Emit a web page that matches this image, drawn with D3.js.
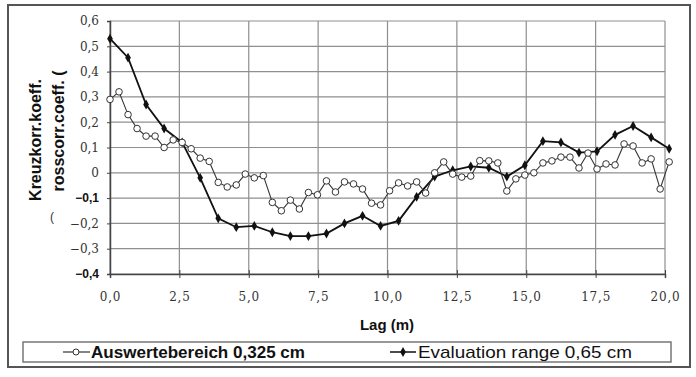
<!DOCTYPE html>
<html>
<head>
<meta charset="utf-8">
<script src="https://cdn.jsdelivr.net/npm/d3@7"></script>
<style>
  body { margin: 0; background: #fff; }
  svg { display: block; }
</style>
</head>
<body>
<svg id="chart" width="696" height="377"></svg>
<script>
// lag steps (m) of the two series
const stepFine = 0.325;
const stepCoarse = 0.65;

// Auswertebereich 0,325 cm (open circles)
const fineValues = [
  0.29, 0.32, 0.23, 0.175, 0.145, 0.145, 0.10, 0.13, 0.12, 0.095,
  0.058, 0.045, -0.038, -0.056, -0.048, -0.005, -0.02, -0.011, -0.117, -0.15,
  -0.108, -0.143, -0.078, -0.087, -0.032, -0.076, -0.036, -0.044, -0.064, -0.12,
  -0.127, -0.071, -0.04, -0.052, -0.036, -0.08, 0.0, 0.043, -0.005, -0.017,
  -0.013, 0.048, 0.047, 0.039, -0.072, -0.024, -0.009, 0.0, 0.039, 0.047,
  0.062, 0.062, 0.019, 0.078, 0.015, 0.035, 0.031, 0.114, 0.106, 0.039,
  0.055, -0.064, 0.043
];

// Evaluation range 0,65 cm (filled diamonds)
const coarseValues = [
  0.53, 0.455, 0.27, 0.175, 0.12, -0.02, -0.18, -0.215, -0.21, -0.235,
  -0.25, -0.25, -0.24, -0.2, -0.17, -0.21, -0.19, -0.095, -0.015, 0.01,
  0.025, 0.02, -0.015, 0.03, 0.125, 0.12, 0.08, 0.085, 0.15, 0.185,
  0.14, 0.095
];

const xTicks = [0, 2.5, 5, 7.5, 10, 12.5, 15, 17.5, 20];
const yTicks = [0.6, 0.5, 0.4, 0.3, 0.2, 0.1, 0, -0.1, -0.2, -0.3, -0.4];
const boldYTicks = [-0.1, -0.4];
const legendLabels = ["Auswertebereich 0,325 cm", "Evaluation range 0,65 cm"];

const fine = fineValues.map((v, i) => ({ lag: i * stepFine, v: v }));
const coarse = coarseValues.map((v, i) => ({ lag: i * stepCoarse, v: v }));

const svg = d3.select("#chart");

const plotLeft = 110, plotRight = 665, plotTop = 21, plotBottom = 274;

const x = d3.scaleLinear().domain([0, 20]).range([plotLeft, plotRight]);
const y = d3.scaleLinear().domain([-0.4, 0.6]).range([plotBottom, plotTop]);

const comma = d => d3.format(".1f")(d).replace(".", ",");

// outer frame
svg.append("rect")
  .attr("x", 8).attr("y", 5)
  .attr("width", 682).attr("height", 362)
  .attr("fill", "#fff")
  .attr("stroke", "#555")
  .attr("stroke-width", 2);

// grid
svg.append("g")
  .selectAll("line")
  .data(yTicks)
  .enter()
  .append("line")
  .attr("x1", plotLeft).attr("x2", plotRight)
  .attr("y1", d => y(d)).attr("y2", d => y(d))
  .attr("stroke", "#8f8f8f")
  .attr("stroke-width", 1.2);

svg.append("g")
  .selectAll("line")
  .data(xTicks)
  .enter()
  .append("line")
  .attr("x1", d => x(d)).attr("x2", d => x(d))
  .attr("y1", plotTop).attr("y2", plotBottom)
  .attr("stroke", "#8f8f8f")
  .attr("stroke-width", 1.2);

// axes
const xAxis = svg.append("g")
  .attr("transform", `translate(0,${plotBottom})`)
  .call(d3.axisBottom(x).tickValues(xTicks).tickSize(4).tickPadding(14).tickFormat(comma));
xAxis.select(".domain").attr("stroke", "#444").attr("stroke-width", 1.5);
xAxis.selectAll(".tick line").attr("stroke", "#444").attr("y1", -4);
xAxis.selectAll("text")
  .attr("font-family", "DejaVu Serif")
  .attr("font-size", 12)
  .attr("letter-spacing", 0.8)
  .attr("fill", "#333");

const yAxis = svg.append("g")
  .attr("transform", `translate(${plotLeft},0)`)
  .call(d3.axisLeft(y).tickValues(yTicks).tickSize(3).tickPadding(8)
    .tickFormat(d => d === 0 ? "0" : comma(d)));
yAxis.select(".domain").attr("stroke", "#444").attr("stroke-width", 1.5);
yAxis.selectAll(".tick line").attr("stroke", "#444");
yAxis.selectAll("text")
  .attr("font-family", d => boldYTicks.includes(d) ? "Liberation Sans" : "DejaVu Serif")
  .attr("font-weight", d => boldYTicks.includes(d) ? "bold" : "normal")
  .attr("font-size", 12)
  .attr("fill", d => boldYTicks.includes(d) ? "#111" : "#333");

// y axis title
svg.append("text")
  .attr("transform", "translate(41,140) rotate(-90)")
  .attr("text-anchor", "middle")
  .attr("font-family", "Liberation Sans")
  .attr("font-weight", "bold")
  .attr("font-size", 16)
  .attr("fill", "#111")
  .text("Kreuzkorr.koeff.");

svg.append("text")
  .attr("transform", "translate(64,131) rotate(-90)")
  .attr("text-anchor", "middle")
  .attr("font-family", "Liberation Sans")
  .attr("font-weight", "bold")
  .attr("font-size", 16)
  .attr("fill", "#111")
  .text("rosscorr.coeff. (");

svg.append("text")
  .attr("x", 52).attr("y", 221)
  .attr("text-anchor", "middle")
  .attr("font-family", "Liberation Sans")
  .attr("font-size", 12)
  .attr("fill", "#333")
  .text("(");

// x axis title
svg.append("text")
  .attr("x", 387).attr("y", 330)
  .attr("text-anchor", "middle")
  .attr("font-family", "Liberation Sans")
  .attr("font-weight", "bold")
  .attr("font-size", 15)
  .attr("fill", "#111")
  .text("Lag (m)");

// series
const line = d3.line().x(d => x(d.lag)).y(d => y(d.v));

svg.append("path")
  .datum(coarse)
  .attr("d", line)
  .attr("fill", "none")
  .attr("stroke", "#111")
  .attr("stroke-width", 1.8);

svg.append("path")
  .datum(fine)
  .attr("d", line)
  .attr("fill", "none")
  .attr("stroke", "#333")
  .attr("stroke-width", 1.1);

const diamond = d3.symbol().type(d3.symbolDiamond).size(28);

svg.append("g")
  .selectAll("path")
  .data(coarse)
  .enter()
  .append("path")
  .attr("d", diamond)
  .attr("transform", d => `translate(${x(d.lag)},${y(d.v)})`)
  .attr("fill", "#111");

svg.append("g")
  .selectAll("circle")
  .data(fine)
  .enter()
  .append("circle")
  .attr("cx", d => x(d.lag))
  .attr("cy", d => y(d.v))
  .attr("r", 3.3)
  .attr("fill", "#fff")
  .attr("stroke", "#333")
  .attr("stroke-width", 1);

// legend
const legend = svg.append("g");
legend.append("rect")
  .attr("x", 23).attr("y", 342)
  .attr("width", 648).attr("height", 20)
  .attr("fill", "#fff")
  .attr("stroke", "#777")
  .attr("stroke-width", 1.5);

legend.append("line")
  .attr("x1", 63).attr("x2", 90).attr("y1", 352).attr("y2", 352)
  .attr("stroke", "#333").attr("stroke-width", 1.2);
legend.append("circle")
  .attr("cx", 76).attr("cy", 352).attr("r", 3)
  .attr("fill", "#fff").attr("stroke", "#333");
legend.append("text")
  .attr("x", 91).attr("y", 358)
  .attr("font-family", "Liberation Sans")
  .attr("font-weight", "bold")
  .attr("font-size", 17)
  .attr("textLength", 214)
  .attr("lengthAdjust", "spacingAndGlyphs")
  .attr("fill", "#111")
  .text(legendLabels[0]);

legend.append("line")
  .attr("x1", 390).attr("x2", 416).attr("y1", 352).attr("y2", 352)
  .attr("stroke", "#111").attr("stroke-width", 1.5);
legend.append("path")
  .attr("d", diamond)
  .attr("transform", "translate(403,352)")
  .attr("fill", "#111");
legend.append("text")
  .attr("x", 418).attr("y", 358)
  .attr("font-family", "Liberation Sans")
  .attr("font-size", 17)
  .attr("textLength", 214)
  .attr("lengthAdjust", "spacingAndGlyphs")
  .attr("fill", "#111")
  .text(legendLabels[1]);
</script>
</body>
</html>
